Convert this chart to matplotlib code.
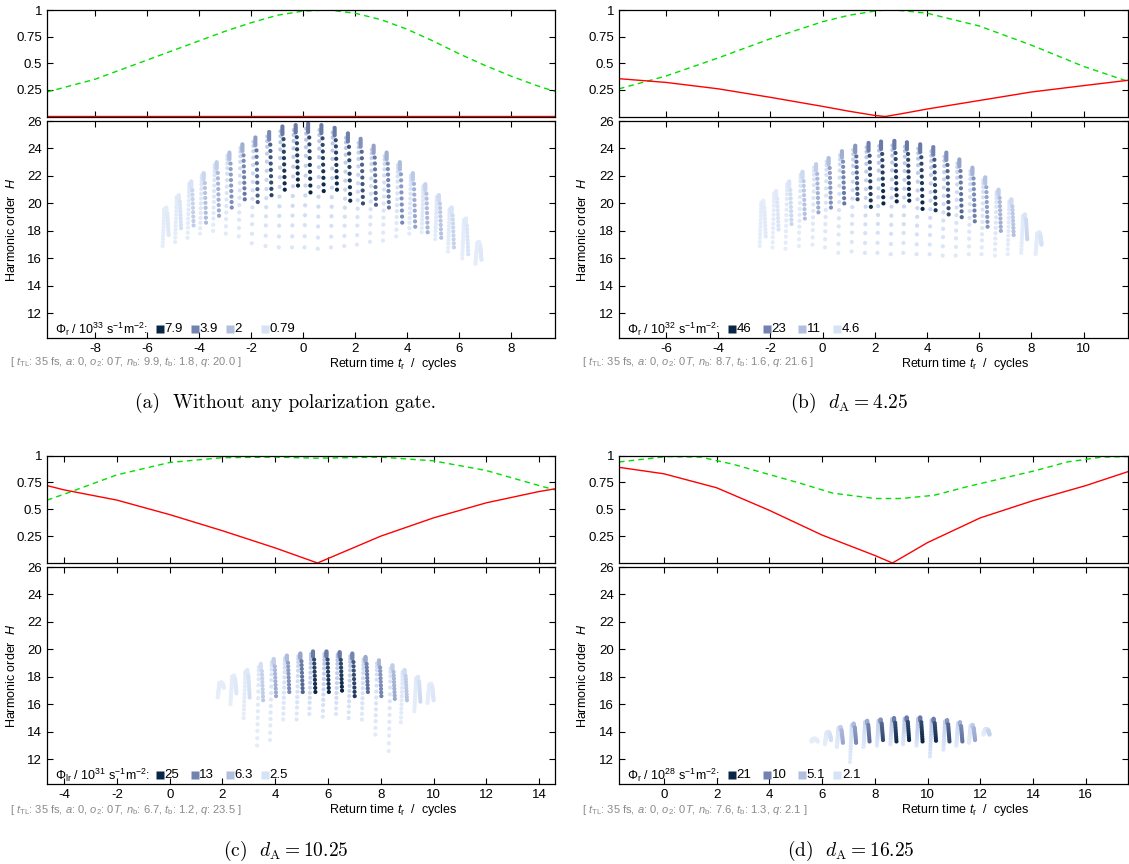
import numpy as np
import matplotlib
matplotlib.use('Agg')
import matplotlib.pyplot as plt
from matplotlib.colors import LinearSegmentedColormap

plt.rcParams['font.family'] = ['Liberation Sans', 'DejaVu Sans']
plt.rcParams['mathtext.fontset'] = 'custom'
plt.rcParams['mathtext.rm'] = 'Liberation Sans'
plt.rcParams['mathtext.it'] = 'Liberation Sans:italic'
plt.rcParams['mathtext.bf'] = 'Liberation Sans:bold'

# ---- return-time columns: time, cutoff, end of short / long branch, relative flux ----
a_t = [-5.26, -4.78, -4.30, -3.82, -3.32, -2.83, -2.33, -1.83, -1.30, -0.79, -0.28, 0.20, 0.71,
       1.22, 1.73, 2.22, 2.72, 3.22, 3.73, 4.23, 4.71, 5.23, 5.72, 6.27, 6.78]
a_top = [19.7, 20.6, 21.6, 22.2, 23.0, 23.7, 24.3, 24.8, 25.2, 25.6, 25.7, 25.8, 25.7,
         25.5, 25.1, 24.7, 24.2, 23.7, 23.0, 22.2, 21.4, 20.6, 19.7, 18.9, 17.2]
a_short = [17.7, 18.2, 18.4, 18.6, 19.1, 19.7, 20.3, 20.1, 20.6, 21.0, 21.3, 20.8, 20.9,
           21.0, 20.2, 20.0, 19.9, 19.7, 18.6, 18.3, 17.9, 17.5, 16.8, 16.3, 15.9]
a_long = [16.9, 17.2, 17.5, 17.8, 18.0, 17.8, 17.6, 17.1, 16.9, 16.8, 16.8, 16.8, 16.7,
          16.8, 16.9, 17.0, 17.2, 17.3, 17.6, 17.8, 17.9, 17.4, 16.5, 16.0, 15.6]
a_flux = [0.07, 0.11, 0.19, 0.27, 0.34, 0.46, 0.57, 0.71, 0.86, 1.0, 1.0, 1.0, 1.0,
          1.0, 0.95, 0.8, 0.68, 0.57, 0.48, 0.37, 0.3, 0.24, 0.17, 0.1, 0.07]

b_t = [-2.27, -1.78, -1.28, -0.77, -0.25, 0.23, 0.74, 1.25, 1.76, 2.24, 2.75, 3.23, 3.74,
       4.24, 4.74, 5.24, 5.74, 6.23, 6.74, 7.23, 7.75, 8.30]
b_top = [20.2, 20.9, 21.6, 22.3, 22.85, 23.3, 23.8, 24.2, 24.4, 24.5, 24.55, 24.45, 24.3,
         24.1, 23.7, 23.2, 22.6, 21.9, 21.0, 20.3, 19.2, 17.9]
b_short = [17.6, 18.1, 18.5, 18.9, 19.35, 19.7, 20.0, 20.3, 19.75, 20.0, 20.15, 20.2, 19.6,
           19.5, 19.2, 19.0, 18.7, 18.3, 18.0, 17.7, 17.4, 17.0]
b_long = [16.9, 16.8, 16.7, 16.9, 17.0, 16.8, 16.4, 16.5, 16.4, 16.4, 16.3, 16.4, 16.3,
          16.3, 16.2, 16.2, 16.3, 16.3, 16.2, 16.3, 16.4, 16.3]
b_flux = [0.06, 0.09, 0.15, 0.25, 0.34, 0.46, 0.57, 0.76, 0.95, 1.0, 1.0, 1.0, 1.0,
          0.92, 0.8, 0.66, 0.54, 0.43, 0.33, 0.24, 0.16, 0.1]

c_t = [1.96, 2.44, 2.94, 3.45, 3.94, 4.44, 4.95, 5.43, 5.94, 6.44, 6.92, 7.42, 7.93,
       8.44, 8.90, 9.41, 9.91]
c_top = [17.6, 18.1, 18.5, 18.95, 19.3, 19.55, 19.7, 19.85, 19.85, 19.8, 19.7, 19.45, 19.2,
         18.85, 18.5, 18.0, 17.5]
c_short = [17.2, 16.8, 16.5, 16.3, 16.6, 16.9, 16.9, 16.9, 16.9, 17.0, 16.6, 16.9, 16.6,
           16.4, 16.3, 16.2, 16.3]
c_long = [16.5, 16.0, 15.0, 13.0, 13.4, 14.9, 14.9, 15.3, 15.1, 15.3, 15.0, 14.9, 13.8,
          12.6, 14.7, 15.5, 16.1]
c_flux = [0.04, 0.07, 0.12, 0.2, 0.34, 0.48, 0.66, 1.0, 1.0, 1.0, 0.9, 0.63, 0.5,
          0.34, 0.23, 0.14, 0.08]

d_t = [5.74, 6.25, 6.70, 7.20, 7.71, 8.22, 8.73, 9.21, 9.72, 10.23, 10.74, 11.23, 11.71, 12.26]
d_top = [13.5, 14.0, 14.35, 14.6, 14.8, 14.9, 15.0, 15.05, 15.05, 14.95, 14.85, 14.7, 14.5, 14.2]
d_short = [13.3, 13.4, 13.2, 13.2, 13.3, 13.4, 13.3, 13.4, 13.3, 13.35, 13.3, 13.3, 13.4, 13.8]
d_long = [13.3, 13.1, 12.9, 11.8, 12.9, 13.0, 13.1, 13.1, 13.0, 12.2, 12.7, 13.0, 13.2, 13.8]
d_flux = [0.04, 0.12, 0.34, 0.48, 0.63, 0.8, 0.97, 1.0, 1.0, 0.97, 0.8, 0.58, 0.35, 0.17]

# ---- field envelope (green) and ellipticity (red) ----
a_green_t = [-9.85, -8, -6, -4, -3, -2, -1, 0, 1, 2, 3, 4, 5, 6, 7, 8, 9, 9.7]
a_green = [0.23, 0.35, 0.53, 0.71, 0.80, 0.88, 0.95, 0.99, 1.0, 0.97, 0.91, 0.82, 0.71,
           0.59, 0.48, 0.38, 0.29, 0.235]
a_red_t = [-9.85, 9.7]
a_red = [0.006, 0.006]

b_green_t = [-7.8, -6, -4, -2, 0, 1, 2, 2.4, 3, 4, 6, 8, 10, 11.7]
b_green = [0.26, 0.38, 0.55, 0.73, 0.89, 0.95, 0.99, 1.0, 0.995, 0.97, 0.85, 0.67, 0.47, 0.33]
b_red_t = [-7.8, -6, -4, -2, 0, 1, 2, 2.4, 3, 4, 6, 8, 10, 11.7]
b_red = [0.355, 0.32, 0.26, 0.18, 0.095, 0.05, 0.01, 0.0, 0.025, 0.07, 0.15, 0.23, 0.29, 0.34]

c_green_t = [-4.65, -4, -2, 0, 2, 4, 5.6, 8, 10, 12, 14, 14.6]
c_green = [0.585, 0.64, 0.82, 0.935, 0.98, 0.985, 0.975, 0.985, 0.95, 0.86, 0.72, 0.68]
c_red_t = [-4.65, -4, -2, 0, 2, 4, 5.6, 8, 10, 12, 14, 14.6]
c_red = [0.72, 0.68, 0.585, 0.45, 0.30, 0.14, 0.0, 0.25, 0.42, 0.56, 0.665, 0.69]

d_green_t = [-1.7, 0.1, 1.4, 2.6, 3.9, 5.2, 6.4, 8.0, 9.0, 10.25, 11.5, 12.8, 14.1, 15.3, 16.6, 17.6]
d_green = [0.94, 0.99, 0.985, 0.92, 0.83, 0.74, 0.65, 0.6, 0.6, 0.63, 0.71, 0.785, 0.86,
           0.94, 0.985, 0.99]
d_red_t = [-1.7, 0, 2, 4, 6, 8, 8.67, 10, 12, 14, 16, 17.6]
d_red = [0.89, 0.83, 0.70, 0.49, 0.26, 0.07, 0.0, 0.19, 0.42, 0.58, 0.72, 0.85]

# ---- legend / annotation text ----
legend_levels = [1.0, 0.5, 0.25, 0.1]
a_legend = ['7.9', '3.9', '2', '0.79']
b_legend = ['46', '23', '11', '4.6']
c_legend = ['25', '13', '6.3', '2.5']
d_legend = ['21', '10', '5.1', '2.1']

flux_cmap = LinearSegmentedColormap.from_list(
    'flux', [(0, '#edf3fc'), (0.1, '#d6e2f6'), (0.25, '#b1bedf'), (0.5, '#7383b0'), (1.0, '#0a2646')])

# dot layout inside one half-cycle column (fractions of the branch length)
CLUSTER = [0.0, 0.03, 0.06, 0.09, 0.12]
SHORT = [0.2, 0.3, 0.4, 0.5, 0.6, 0.7, 0.8, 0.9, 1.0]
LONG = [0.04, 0.08, 0.13, 0.19, 0.26, 0.34, 0.42, 0.5, 0.58, 0.66, 0.74, 0.82, 0.91, 1.0]


def column_dots(t, top, short, long, flux):
    xs, ys, cs = [], [], []
    for ti, hi, hs, hl, v in zip(t, top, short, long, flux):
        for f in LONG:
            xs.append(ti - 0.07 - 0.07 * f)
            ys.append(hi - f * (hi - hl))
            cs.append(0.03 + v * (0.2 - 0.15 * f))
        for f in CLUSTER:
            xs.append(ti)
            ys.append(hi - f * (hi - hs))
            cs.append(0.55 * v)
        for f in SHORT:
            xs.append(ti + 0.03 + 0.06 * f)
            ys.append(hi - f * (hi - hs))
            cs.append(v * (0.75 + 0.25 * f))
    xs, ys, cs = np.array(xs), np.array(ys), np.array(cs)
    order = np.argsort(cs)
    return xs[order], ys[order], cs[order]


def style_axes(ax):
    ax.tick_params(direction='in', top=True, right=True, length=4, width=0.8, labelsize=9.5)
    for s in ax.spines.values():
        s.set_linewidth(0.9)


def panel(pos_top, pos_bot, xlim, xticks, cols, green, red, phi, exp, legend, note):
    ax1 = fig.add_axes(pos_top)
    ax1.plot(green[0], green[1], color='#00e000', lw=1.0, dashes=(4, 3))
    ax1.plot(red[0], red[1], color='#ff0000', lw=1.0)
    ax1.set_xlim(xlim)
    ax1.set_ylim(0, 1)
    ax1.set_xticks(xticks)
    ax1.set_yticks([0.25, 0.5, 0.75, 1])
    ax1.set_yticklabels(['0.25', '0.5', '0.75', '1'])
    ax1.tick_params(labelbottom=False)
    style_axes(ax1)

    ax2 = fig.add_axes(pos_bot)
    x, y, c = column_dots(*cols)
    ax2.scatter(x, y, c=c, cmap=flux_cmap, vmin=0, vmax=1, s=9, linewidths=0)
    ax2.set_xlim(xlim)
    ax2.set_ylim(10.2, 26)
    ax2.set_xticks(xticks)
    ax2.set_xticklabels(['%g' % v for v in xticks])
    ax2.set_yticks(range(12, 27, 2))
    style_axes(ax2)
    ax2.set_ylabel('Harmonic order  $H$', fontsize=9)
    ax2.yaxis.set_label_coords(-0.058, 0.5)
    ax2.set_xlabel(r'Return time $t_{\rm r}$  /  cycles', fontsize=9)
    ax2.xaxis.set_label_coords(0.681, -0.085)

    # flux legend
    ly = 0.042
    ax2.text(0.016, ly, r'$\Phi_{\rm %s}$ / 10$^{%d}$ s$^{-1}$m$^{-2}$:' % (phi, exp),
             transform=ax2.transAxes, fontsize=9, va='center', ha='left')
    for k, (lev, lab) in enumerate(zip(legend_levels, legend)):
        x0 = 0.222 + 0.069 * k
        ax2.plot([x0], [ly], 's', ms=6, color=flux_cmap(lev), mec='none',
                 transform=ax2.transAxes, clip_on=False)
        ax2.text(x0 + 0.009, ly, lab, transform=ax2.transAxes, fontsize=9.5,
                 va='center', ha='left')

    fig.text(note[0], note[1],
             r'[ $t_{\rm TL}$: 35 fs, $a$: 0, $o_2$: 0$T$, $n_{\rm b}$: %s, $t_{\rm b}$: %s, $q$: %s ]'
             % note[2], color='#8a8a8a', fontsize=8, va='center', ha='left')
    return ax1, ax2


W, H = 1129, 864
fig = plt.figure(figsize=(W / 100, H / 100), dpi=100)


def box(x0, x1, y0, y1):
    return [x0 / W, 1 - y1 / H, (x1 - x0) / W, (y1 - y0) / H]


panel(box(47, 555, 10, 116.5), box(47, 555, 121, 338), (-9.85, 9.7), list(range(-8, 9, 2)),
      (a_t, a_top, a_short, a_long, a_flux), (a_green_t, a_green), (a_red_t, a_red),
      'r', 33, a_legend, (10 / W, 1 - 362 / H, ('9.9', '1.8', '20.0')))
panel(box(619, 1128, 10, 116.5), box(619, 1128, 121, 338), (-7.8, 11.7), list(range(-6, 11, 2)),
      (b_t, b_top, b_short, b_long, b_flux), (b_green_t, b_green), (b_red_t, b_red),
      'r', 32, b_legend, (582 / W, 1 - 362 / H, ('8.7', '1.6', '21.6')))
panel(box(47, 555, 455.5, 563), box(47, 555, 567, 784), (-4.65, 14.6), list(range(-4, 15, 2)),
      (c_t, c_top, c_short, c_long, c_flux), (c_green_t, c_green), (c_red_t, c_red),
      'lr', 31, c_legend, (10 / W, 1 - 810 / H, ('6.7', '1.2', '23.5')))
panel(box(619, 1128, 455.5, 563), box(619, 1128, 567, 784), (-1.7, 17.6), list(range(0, 17, 2)),
      (d_t, d_top, d_short, d_long, d_flux), (d_green_t, d_green), (d_red_t, d_red),
      'r', 28, d_legend, (582 / W, 1 - 810 / H, ('7.6', '1.3', '2.1')))

caps = [(285.5, 403, '(a)  Without any polarization gate.'),
        (849, 403, r'(b)  $d_{\rm A} = 4.25$'),
        (286, 851, r'(c)  $d_{\rm A} = 10.25$'),
        (851, 851, r'(d)  $d_{\rm A} = 16.25$')]
for cx, cy, txt in caps:
    fig.text(cx / W, 1 - cy / H, txt, ha='center', va='center', fontsize=14,
             family='cmr10', math_fontfamily='cm')

fig.savefig('out.png', dpi=100)
